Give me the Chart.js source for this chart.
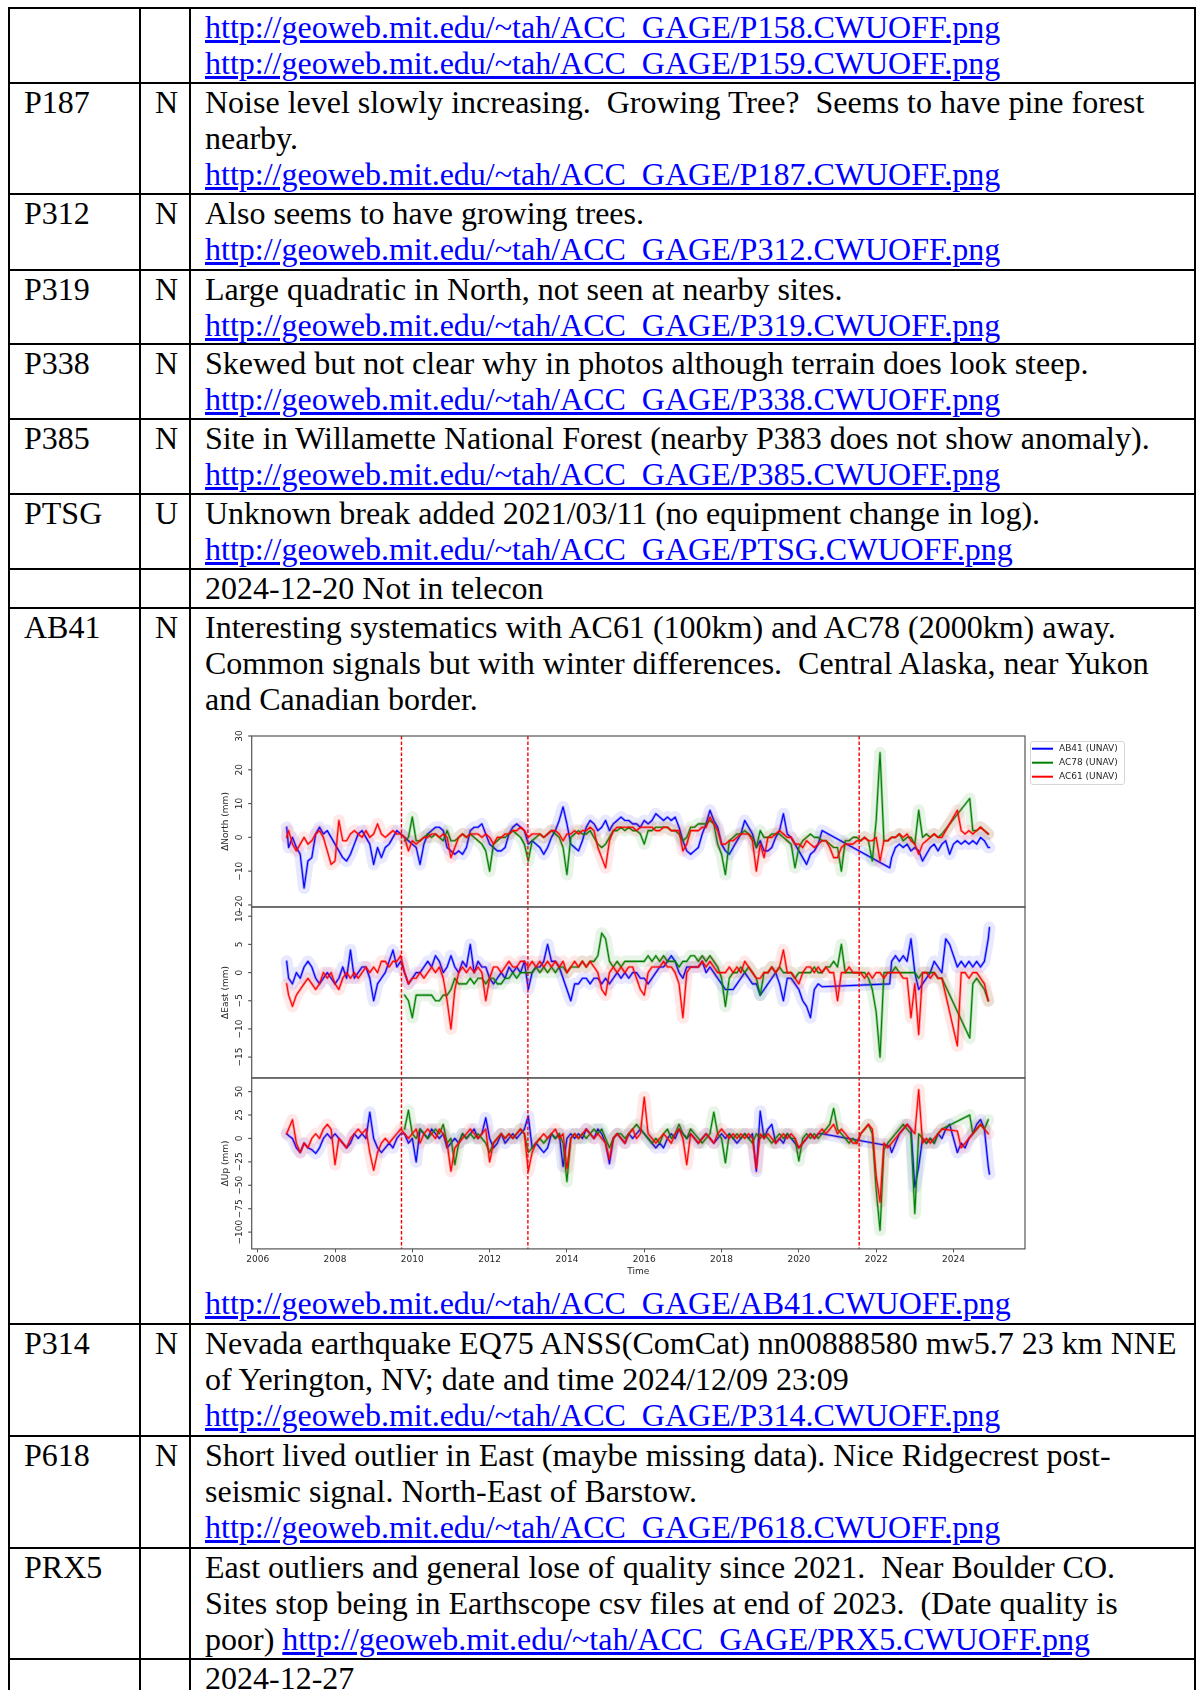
<!DOCTYPE html>
<html>
<head>
<meta charset="utf-8">
<script src="https://cdn.jsdelivr.net/npm/chart.js@4/dist/chart.umd.min.js"></script>
<style>
html,body{margin:0;padding:0;background:#fff;}
body{width:1196px;height:1690px;overflow:hidden;position:relative;}
table{position:absolute;left:8px;top:6.7px;border-collapse:collapse;table-layout:fixed;width:1186px;
  font-family:"Liberation Serif","Times New Roman",serif;font-size:32px;line-height:36.2px;color:#000;}
td{border:2px solid #000;padding:0 0 0 14px;vertical-align:top;white-space:pre;overflow:hidden;}
a{color:#0000ff;text-decoration:underline;}
#gnss{display:block;filter:blur(0.4px);}
</style>
</head>
<body>
<table>
<colgroup><col style="width:131px"><col style="width:50px"><col style="width:1005px"></colgroup>
<tr style="height:75px"><td></td><td></td><td><a href="#">http://geoweb.mit.edu/~tah/ACC_GAGE/P158.CWUOFF.png</a><br><a href="#">http://geoweb.mit.edu/~tah/ACC_GAGE/P159.CWUOFF.png</a></td></tr>
<tr style="height:111.6px"><td>P187</td><td>N</td><td>Noise level slowly increasing.  Growing Tree?  Seems to have pine forest<br>nearby.<br><a href="#">http://geoweb.mit.edu/~tah/ACC_GAGE/P187.CWUOFF.png</a></td></tr>
<tr style="height:75.4px"><td>P312</td><td>N</td><td>Also seems to have growing trees.<br><a href="#">http://geoweb.mit.edu/~tah/ACC_GAGE/P312.CWUOFF.png</a></td></tr>
<tr style="height:74.6px"><td>P319</td><td>N</td><td>Large quadratic in North, not seen at nearby sites.<br><a href="#">http://geoweb.mit.edu/~tah/ACC_GAGE/P319.CWUOFF.png</a></td></tr>
<tr style="height:74px"><td>P338</td><td>N</td><td>Skewed but not clear why in photos although terrain does look steep.<br><a href="#">http://geoweb.mit.edu/~tah/ACC_GAGE/P338.CWUOFF.png</a></td></tr>
<tr style="height:75px"><td>P385</td><td>N</td><td>Site in Willamette National Forest (nearby P383 does not show anomaly).<br><a href="#">http://geoweb.mit.edu/~tah/ACC_GAGE/P385.CWUOFF.png</a></td></tr>
<tr style="height:75px"><td>PTSG</td><td>U</td><td>Unknown break added 2021/03/11 (no equipment change in log).<br><a href="#">http://geoweb.mit.edu/~tah/ACC_GAGE/PTSG.CWUOFF.png</a></td></tr>
<tr style="height:39.2px"><td></td><td></td><td>2024-12-20 Not in telecon</td></tr>
<tr style="height:716.2px"><td>AB41</td><td>N</td><td>Interesting systematics with AC61 (100km) and AC78 (2000km) away.<br>Common signals but with winter differences.  Central Alaska, near Yukon<br>and Canadian border.<canvas id="gnss" width="926" height="568"></canvas><a href="#">http://geoweb.mit.edu/~tah/ACC_GAGE/AB41.CWUOFF.png</a></td></tr>
<tr style="height:111.6px"><td>P314</td><td>N</td><td>Nevada earthquake EQ75 ANSS(ComCat) nn00888580 mw5.7 23 km NNE<br>of Yerington, NV; date and time 2024/12/09 23:09<br><a href="#">http://geoweb.mit.edu/~tah/ACC_GAGE/P314.CWUOFF.png</a></td></tr>
<tr style="height:112.4px"><td>P618</td><td>N</td><td>Short lived outlier in East (maybe missing data). Nice Ridgecrest post-<br>seismic signal. North-East of Barstow.<br><a href="#">http://geoweb.mit.edu/~tah/ACC_GAGE/P618.CWUOFF.png</a></td></tr>
<tr style="height:111px"><td>PRX5</td><td></td><td>East outliers and general lose of quality since 2021.  Near Boulder CO.<br>Sites stop being in Earthscope csv files at end of 2023.  (Date quality is<br>poor) <a href="#">http://geoweb.mit.edu/~tah/ACC_GAGE/PRX5.CWUOFF.png</a></td></tr>
<tr style="height:80px"><td></td><td></td><td>2024-12-27</td></tr>
</table>

<script>
// Station names shown in the legend
const STATIONS = ['AB41 (UNAV)', 'AC78 (UNAV)', 'AC61 (UNAV)'];
// Epochs of the vertical break markers (decimal year)
const BREAK_YEARS = [2009.72, 2012.99, 2021.56];
// Panel titles
const PANEL_TITLES = ['\u0394North (mm)', '\u0394East (mm)', '\u0394Up (mm)'];

// ---- AB41 sample epochs and residuals (mm) ----
const T_AB41 = [2006.75,2006.8,2006.9,
 2007,2007.1,2007.2,2007.3,2007.4,2007.5,2007.6,2007.7,2007.8,2007.9,
 2008,2008.1,2008.2,2008.3,2008.4,2008.5,2008.6,2008.7,2008.8,2008.9,
 2009,2009.1,2009.2,2009.3,2009.4,2009.5,2009.6,2009.7,2009.8,2009.9,
 2010,2010.1,2010.2,2010.3,2010.4,2010.5,2010.6,2010.7,2010.8,2010.9,
 2011,2011.1,2011.2,2011.3,2011.4,2011.5,2011.6,2011.7,2011.8,2011.9,
 2012,2012.1,2012.2,2012.3,2012.4,2012.5,2012.6,2012.7,2012.8,2012.9,
 2013,2013.1,2013.2,2013.3,2013.4,2013.5,2013.6,2013.7,2013.8,2013.9,
 2014,2014.1,2014.2,2014.3,2014.4,2014.5,2014.6,2014.7,2014.8,2014.9,
 2015,2015.1,2015.2,2015.3,2015.4,2015.5,2015.6,2015.7,2015.8,2015.9,
 2016,2016.1,2016.2,2016.3,2016.4,2016.5,2016.6,2016.7,2016.8,2016.9,
 2017,2017.1,2017.2,2017.3,2017.4,2017.5,2017.6,2017.7,2017.8,2017.9,
 2018,2018.1,2018.2,2018.3,2018.4,2018.5,2018.6,2018.7,2018.8,2018.9,
 2019,2019.1,2019.2,2019.3,2019.4,2019.5,2019.6,2019.7,2019.8,2019.9,
 2020,2020.1,2020.2,2020.3,2020.4,2020.5,2020.6,
 2022.35,2022.4,2022.5,2022.6,2022.7,2022.8,2022.9,
 2023,2023.1,2023.2,2023.3,2023.4,2023.5,2023.6,2023.7,2023.8,2023.9,
 2024,2024.1,2024.2,2024.3,2024.4,2024.5,2024.6,2024.7,2024.8,2024.9,2024.93];
const N_AB41 = [3,-3,0,
 -3,-5,-15,-7,-6,1,3,1,2,0,
 -2,-4,-6,-7,-5,-2,1,2,0,-2,
 -8,-3,-6,-3,-2,0,2,1,0,-1,
 -2,-3,-8,-2,1,2,3,3,2,-3,
 -4,-5,-4,-5,-3,2,3,3,4,1,
 -2,-3,-4,-4,-3,1,3,4,3,2,
 -2,-1,-2,-3,-5,-3,0,2,5,9,
 4,-2,-3,-4,-1,3,5,4,2,3,
 5,2,4,5,6,5,5,4,4,3,
 5,4,5,7,6,5,6,5,6,3,
 -1,-4,-5,-4,-3,1,4,8,5,3,
 -2,-4,-5,-3,-1,1,5,3,1,-3,
 -1,-4,-4,-3,0,2,7,1,0,-2,
 -4,-6,-8,-5,-4,-2,2,
 -9,-6,-3,-2,-3,-2,-4,
 -3,-4,-7,-5,-3,-2,-4,-2,-1,-5,
 -2,-1,-2,-1,-2,-1,-2,0,-1,-3,-3];
const E_AB41 = [2,-1,-2,
 0,-1,1,2,1,-1,-2,-1,0,-1,
 -2,-1,1,-1,4,-1,0,1,1,-1,
 -5,-2,-1,0,2,4,1,2,0,-2,
 -1,0,0,1,2,1,3,2,0,1,
 3,1,0,2,1,5,0,2,1,1,
 -1,-2,-1,0,-1,1,0,1,0,2,
 -3,0,1,1,2,5,2,2,1,-1,
 -3,-5,-2,-2,-1,-1,-2,-1,-1,-2,
 -1,-2,-1,0,-1,0,-1,0,0,-1,
 -1,-2,-1,0,1,1,2,3,2,0,
 -1,1,1,1,1,2,0,1,0,-1,
 -2,-3,-3,-3,-2,-1,0,-1,-2,-2,
 -4,-3,-2,-1,0,-2,-5,-1,-1,-2,
 -3,-5,-6,-8,-3,-2,-2.5,
 -2,2,3,2,3,2,6,
 0,-3,-2,-1,0,2,1,0,6,5,
 3,1,2,1,2,1,2,1,2,6,8];
const U_AB41 = [5,3,0,
 -10,-15,-5,-10,-12,-16,-10,0,5,0,
 5,0,-5,-10,-5,5,0,5,0,28,
 0,-10,-15,-10,-5,-10,0,5,5,-5,
 0,-25,10,5,0,10,5,0,5,-10,
 -5,0,-5,5,0,5,10,0,5,22,
 0,-10,-5,5,-5,0,5,0,5,10,
 24,-10,-5,-10,-15,-10,5,0,5,-30,
 0,5,0,5,0,10,5,0,10,5,
 -5,-27,0,5,0,-5,5,0,5,10,
 5,0,-5,-10,-5,-10,0,5,0,10,
 5,0,5,0,-5,0,5,0,-5,0,
 5,0,5,0,-5,0,5,0,5,-35,
 29,0,10,15,-5,0,-5,5,0,-5,
 -10,-5,0,5,0,5,5,
 -8,-15,-5,5,10,15,10,
 -52,-30,0,-5,0,-5,5,0,10,15,
 0,-15,-5,-10,0,5,15,20,10,-30,-38];

// ---- AC78 sample epochs and residuals (mm) ----
const T_AC78 = [2009.8,2009.9,
 2010,2010.1,2010.2,2010.3,2010.4,2010.5,2010.6,2010.7,2010.8,2010.9,
 2011,2011.1,2011.2,2011.3,2011.4,2011.5,2011.6,2011.7,2011.8,2011.9,
 2012,2012.1,2012.2,2012.3,2012.4,2012.5,2012.6,2012.7,2012.8,2012.9,
 2013,2013.1,2013.2,2013.3,2013.4,2013.5,2013.6,2013.7,2013.8,2013.9,
 2014,2014.1,2014.2,2014.3,2014.4,2014.5,2014.6,2014.7,2014.8,2014.9,
 2015,2015.1,2015.2,2015.3,2015.4,2015.5,2015.6,2015.7,2015.8,2015.9,
 2016,2016.1,2016.2,2016.3,2016.4,2016.5,2016.6,2016.7,2016.8,2016.9,
 2017,2017.1,2017.2,2017.3,2017.4,2017.5,2017.6,2017.7,2017.8,2017.9,
 2018,2018.1,2018.2,2018.3,2018.4,2018.5,2018.6,2018.7,2018.8,2018.9,
 2019,2019.1,2019.2,2019.3,2019.4,2019.5,2019.6,2019.7,2019.8,2019.9,
 2020,2020.1,2020.2,2020.3,2020.4,2020.5,2020.6,2020.7,2020.8,2020.9,
 2021,2021.1,2021.2,2021.3,2021.4,2021.5,2021.6,2021.7,2021.8,2021.9,
 2022,2022.1,2022.2,2022.3,2022.4,2022.5,2022.6,2022.7,2022.8,2022.9,
 2023,2023.1,2023.2,2023.3,2023.4,2023.5,2023.6,2023.7,
 2024.42,
 2024.5,2024.6,2024.7,2024.8,2024.9];
const N_AC78 = [-1,0,
 6,-1,-1,0,1,0,1,0,-1,2,
 -1,-1,0,1,0,1,0,-1,-2,-4,
 -10,-2,-1,0,0,1,2,1,0,-2,
 -7,-1,0,1,0,1,2,1,0,-3,
 -11,0,1,2,1,1,2,0,-2,-3,
 -2,0,2,2,3,2,3,2,2,1,
 -2,2,2,3,3,3,3,2,2,1,
 -1,0,3,3,4,4,4,5,4,-2,
 -5,-11,-1,0,1,1,2,1,0,-3,
 2,0,0,1,1,1,0,-1,-2,-9,
 -3,-1,0,1,0,0,-1,-1,-2,-3,
 -3,-10,-1,-1,0,0,-1,0,-1,-7,
 5,25,-1,-1,0,0,1,-1,0,0,
 -2,8,0,1,0,1,0,1,
 11.5,
 2,2,3,2,1];
const E_AC78 = [-4,-5,
 -8,-4,-4,-4,-4,-4,-5,-5,-4,-4,
 -3,-1,-2,-2,-2,-1,-2,-1,-1,-2,
 -1,-1,-2,-2,-1,-1,0,-1,0,0,
 0,0,1,0,1,0,1,0,1,1,
 0,1,1,1,2,1,2,2,3,7,
 6,2,1,2,1,2,2,2,2,2,
 2,3,2,3,2,3,2,2,2,1,
 2,2,3,3,2,3,2,3,2,1,
 -1,-6,-1,0,0,1,0,1,0,-1,
 -4,0,0,1,0,1,0,0,0,-1,
 0,0,0,0,1,0,0,1,1,2,
 1,5,0,0,0,0,0,0,-1,-3,
 -7,-15,0,0,0,1,0,0,0,0,
 0,-1,0,0,0,0,-1,-1,
 -11.6,
 -2,-1,-2,-3,-5];
const U_AC78 = [10,30,
 5,0,10,5,0,5,10,5,15,-5,
 0,-28,-5,5,0,5,0,5,0,-5,
 -15,-5,0,5,0,5,0,5,10,5,
 -15,-10,-5,0,-5,0,5,0,5,-5,
 -46,0,5,0,5,0,5,10,5,10,
 0,-10,0,5,5,0,5,10,15,10,
 5,0,-5,0,-5,5,10,0,5,15,
 5,0,10,5,0,-5,0,5,28,5,
 0,-26,5,0,5,0,5,0,-5,5,
 0,5,0,-5,0,5,0,5,0,0,
 -24,0,5,0,5,0,5,10,15,32,
 10,5,0,-5,0,-5,5,10,15,5,
 -55,-98,-12,-5,0,5,10,15,10,5,
 -80,5,0,-5,0,-5,5,10,
 25,
 5,10,15,10,20];

// ---- AC61 sample epochs and residuals (mm) ----
const T_AC61 = [2006.75,2006.8,2006.9,
 2007,2007.1,2007.2,2007.3,2007.4,2007.5,2007.6,2007.7,2007.8,2007.9,
 2008,2008.1,2008.2,2008.3,2008.4,2008.5,2008.6,2008.7,2008.8,2008.9,
 2009,2009.1,2009.2,2009.3,2009.4,2009.5,2009.6,2009.7,2009.8,2009.9,
 2010,2010.1,2010.2,2010.3,2010.4,2010.5,2010.6,2010.7,2010.8,2010.9,
 2011,2011.1,2011.2,2011.3,2011.4,2011.5,2011.6,2011.7,2011.8,2011.9,
 2012,2012.1,2012.2,2012.3,2012.4,2012.5,2012.6,2012.7,2012.8,2012.9,
 2013,2013.1,2013.2,2013.3,2013.4,2013.5,2013.6,2013.7,2013.8,2013.9,
 2014,2014.1,2014.2,2014.3,2014.4,2014.5,2014.6,2014.7,2014.8,2014.9,
 2015,2015.1,2015.2,2015.3,2015.4,2015.5,2015.6,2015.7,2015.8,2015.9,
 2016,2016.1,2016.2,2016.3,2016.4,2016.5,2016.6,2016.7,2016.8,2016.9,
 2017,2017.1,2017.2,2017.3,2017.4,2017.5,2017.6,2017.7,2017.8,2017.9,
 2018,2018.1,2018.2,2018.3,2018.4,2018.5,2018.6,2018.7,2018.8,2018.9,
 2019,2019.1,2019.2,2019.3,2019.4,2019.5,2019.6,2019.7,2019.8,2019.9,
 2020,2020.1,2020.2,2020.3,2020.4,2020.5,2020.6,2020.7,2020.8,2020.9,
 2021,2021.1,2021.2,2021.3,2021.4,2021.5,2021.6,2021.7,2021.8,2021.9,
 2022,2022.1,2022.2,2022.3,2022.4,2022.5,2022.6,2022.7,2022.8,2022.9,
 2023,2023.1,2023.2,2023.3,2023.4,2023.5,2023.6,2023.7,
 2024.1,
 2024.2,2024.3,2024.4,2024.5,2024.6,2024.7,2024.8,2024.9];
const N_AC61 = [0,2,-2,
 -4,-2,0,-2,-1,1,2,0,-4,-8,
 -7,5,-1,-1,1,2,1,0,2,0,
 1,4,1,0,1,2,1,1,0,-4,
 -1,-2,-1,0,0,1,1,0,1,0,
 -6,-3,0,1,0,1,1,1,0,1,
 0,-2,0,0,1,1,2,2,3,2,
 0,1,1,1,0,1,2,2,1,-1,
 1,1,2,1,2,2,3,2,-3,-6,
 -9,-1,2,3,3,3,3,3,2,3,
 3,3,3,2,2,3,3,2,2,2,
 -4,-2,2,2,2,3,3,6,4,2,
 -2,-2,-1,-1,0,1,1,1,-1,-10,
 -2,-6,0,0,1,2,1,0,0,-2,
 -2,-3,-1,-2,-3,-2,-1,-1,-3,-6,
 -6,-3,-2,-2,-2,-1,-1,0,-1,-1,
 0,-7,-1,-1,0,0,1,0,1,-1,
 -2,-5,-2,-1,0,1,0,0,
 8,
 2,1,2,1,2,3,2,1];
const E_AC61 = [-2,-4,-6,
 -4,-3,-2,-1,-2,-3,-2,0,-1,0,
 -2,-3,-1,0,-1,0,-1,0,1,0,
 1,0,2,2,1,2,2,3,0,-2,
 -1,-1,0,-1,0,1,0,1,-1,-5,
 -10,-3,0,1,0,1,0,1,0,-5,
 -1,1,1,0,1,2,1,1,2,2,
 1,2,1,2,1,2,1,2,1,2,
 0,1,2,1,2,1,2,1,0,-3,
 -4,0,1,0,1,0,1,1,-1,-3,
 -4,0,1,1,1,2,1,1,0,-2,
 -8,0,1,1,1,2,1,2,1,0,
 0,0,1,0,1,0,2,1,0,-1,
 -1,0,0,1,0,1,4,0,0,-1,
 -2,0,1,1,0,1,0,1,0,0,
 -5,0,0,1,0,0,0,-1,0,-1,
 0,0,-1,0,0,0,0,-1,-1,-8,
 -2,-11,0,0,-1,0,-1,-1,
 -13,
 0,0,-1,0,0,-1,-2,-5];
const U_AC61 = [5,10,20,
 -5,-15,-5,-10,0,5,0,10,15,10,
 -28,0,-5,-10,0,5,10,5,10,-15,
 -34,-15,-5,0,-5,0,5,10,5,0,
 5,10,-5,5,10,5,0,10,5,-5,
 -35,-10,-5,0,5,10,5,0,5,10,
 -25,-5,0,5,0,5,0,5,10,5,
 -35,-15,-5,0,5,0,5,10,0,5,
 -32,0,5,0,5,10,5,0,5,0,
 -5,-22,0,5,0,-5,5,10,0,5,
 44,5,0,-5,0,5,0,-5,5,10,
 0,-28,5,0,-5,0,5,0,-5,5,
 10,5,0,5,0,5,0,5,0,-32,
 5,0,5,0,-5,0,5,0,5,0,
 -10,-5,0,5,0,5,10,5,10,15,
 5,10,5,0,-5,-5,5,10,15,10,
 -40,-68,-5,-10,-5,0,5,10,15,10,
 5,52,-5,0,-5,0,5,10,
 8,
 -10,-5,0,5,10,15,10,5];

// Drawing styles per station (blue, green, red)
const STYLE = [
  {line: '#0000ff', body: 'rgba(0,0,255,0.35)', band: 'rgba(0,0,255,0.09)'},
  {line: '#008000', body: 'rgba(0,128,0,0.35)', band: 'rgba(0,128,0,0.09)'},
  {line: '#ff0000', body: 'rgba(255,0,0,0.35)', band: 'rgba(255,0,0,0.09)'}
];
const SERIES = [
  {t: T_AB41, comps: [N_AB41, E_AB41, U_AB41]},
  {t: T_AC78, comps: [N_AC78, E_AC78, U_AC78]},
  {t: T_AC61, comps: [N_AC61, E_AC61, U_AC61]}
];
const AXES = ['yN', 'yE', 'yU'];

function pts(t, v) {
  const n = Math.min(t.length, v.length);
  const out = [];
  for (let i = 0; i < n; i++) out.push({x: t[i], y: v[i]});
  return out;
}

const datasets = [];
SERIES.forEach((s, k) => {
  s.comps.forEach((vals, c) => {
    const data = pts(s.t, vals);
    const base = {data, yAxisID: AXES[c], pointRadius: 0, fill: false, tension: 0,
      borderJoinStyle: 'round', borderCapStyle: 'round'};
    // uncertainty envelope, drawn as a wide translucent stroke
    datasets.push(Object.assign({}, base, {label: '', order: 30 - 3 * k, borderColor: STYLE[k].band, borderWidth: 12}));
    // spread of the daily solutions around the series
    datasets.push(Object.assign({}, base, {label: '', order: 29 - 3 * k, borderColor: STYLE[k].body, borderWidth: 2.6}));
    datasets.push(Object.assign({}, base, {label: STATIONS[k], order: 28 - 3 * k, borderColor: STYLE[k].line, borderWidth: 1.1}));
  });
});

const FONT = '"DejaVu Sans", Verdana, sans-serif';
const TXT = '#262626';

function fmt(v) {
  return v < 0 ? '\u2212' + Math.abs(v) : String(v);
}

const panelDecor = {
  id: 'panelDecor',
  afterDatasetsDraw(chart) {
    const {ctx, chartArea, scales} = chart;
    const xs = scales.x;
    ctx.save();
    // break markers
    ctx.strokeStyle = '#ff0000';
    ctx.lineWidth = 1.4;
    ctx.setLineDash([3.5, 2]);
    BREAK_YEARS.forEach(yr => {
      const px = xs.getPixelForValue(yr);
      ctx.beginPath();
      ctx.moveTo(px, chartArea.top);
      ctx.lineTo(px, chartArea.bottom);
      ctx.stroke();
    });
    ctx.setLineDash([]);
    // panel frames, y ticks and titles
    AXES.forEach((id, c) => {
      const sc = scales[id];
      ctx.strokeStyle = '#555';
      ctx.lineWidth = 1.2;
      ctx.strokeRect(chartArea.left, sc.top, chartArea.right - chartArea.left, sc.bottom - sc.top);
      ctx.fillStyle = TXT;
      ctx.font = '9px ' + FONT;
      ctx.textAlign = 'center';
      ctx.textBaseline = 'middle';
      sc.ticks.forEach(tk => {
        const py = sc.getPixelForValue(tk.value);
        ctx.beginPath();
        ctx.moveTo(chartArea.left - 3.5, py);
        ctx.lineTo(chartArea.left, py);
        ctx.stroke();
        ctx.save();
        ctx.translate(chartArea.left - 12.5, py);
        ctx.rotate(-Math.PI / 2);
        ctx.fillText(fmt(tk.value), 0, 0);
        ctx.restore();
      });
      ctx.save();
      ctx.translate(chartArea.left - 25.7, (sc.top + sc.bottom) / 2);
      ctx.rotate(-Math.PI / 2);
      ctx.fillText(PANEL_TITLES[c], 0, 0);
      ctx.restore();
    });
    // legend
    const lx = chartArea.right + 5, ly = chartArea.top + 5, lw = 94, lh = 43;
    ctx.fillStyle = 'rgba(255,255,255,0.85)';
    ctx.strokeStyle = '#d6d6d6';
    ctx.lineWidth = 1;
    ctx.beginPath();
    ctx.roundRect(lx + 0.5, ly + 0.5, lw, lh, 2.5);
    ctx.fill();
    ctx.stroke();
    ctx.font = '9px ' + FONT;
    ctx.textAlign = 'left';
    ctx.textBaseline = 'middle';
    STATIONS.forEach((name, i) => {
      const y = ly + 7.7 + i * 14;
      ctx.strokeStyle = STYLE[i].line;
      ctx.lineWidth = 2;
      ctx.beginPath();
      ctx.moveTo(lx + 2, y);
      ctx.lineTo(lx + 23, y);
      ctx.stroke();
      ctx.fillStyle = TXT;
      ctx.fillText(name, lx + 29, y);
    });
    ctx.restore();
  }
};

function yAxis(min, max, step, weight) {
  return {
    type: 'linear', position: 'left', stack: 'panels', stackWeight: 1, weight,
    min, max,
    ticks: {display: false, stepSize: step, includeBounds: false},
    grid: {display: false},
    border: {display: false},
    afterFit(scale) { scale.width = 46.7; }
  };
}

new Chart(document.getElementById('gnss'), {
  type: 'line',
  data: {datasets},
  options: {
    responsive: false,
    animation: false,
    devicePixelRatio: 1,
    events: [],
    parsing: false,
    layout: {padding: {left: 0, right: 106, top: 19, bottom: 0}},
    plugins: {legend: {display: false}, tooltip: {enabled: false}},
    scales: {
      x: {
        type: 'linear', position: 'bottom', min: 2005.845, max: 2025.85,
        ticks: {stepSize: 2, includeBounds: false, color: TXT, font: {family: FONT, size: 9}, padding: 2,
          maxRotation: 0, callback: v => String(v)},
        grid: {display: true, drawOnChartArea: false, drawTicks: true, tickLength: 3.5, color: '#555'},
        border: {display: false},
        title: {display: true, text: 'Time', color: TXT, font: {family: FONT, size: 9}, padding: {top: 0, bottom: 8}},
        afterFit(scale) { scale.height = 36.1; }
      },
      yN: yAxis(-20.6, 30, 10, 3),
      yE: yAxis(-18.7, 11.65, 5, 2),
      yU: yAxis(-117.9, 64.6, 25, 1)
    }
  },
  plugins: [panelDecor]
});
</script>
</body>
</html>
